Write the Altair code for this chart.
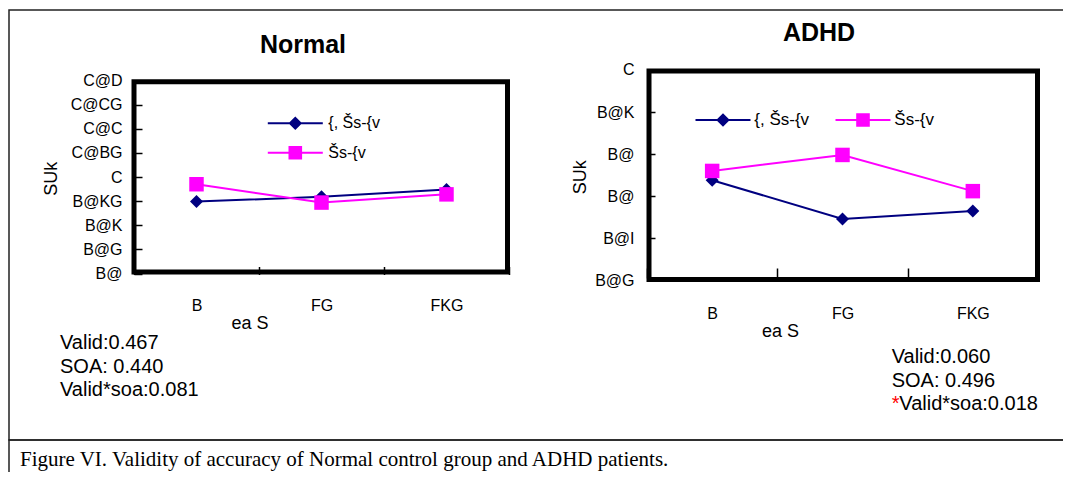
import json
import altair as alt
import pandas as pd

FONT = "Liberation Sans"
SERIF = "Liberation Serif"

# ---------------- data ----------------
categories = ["B", "FG", "FKG"]
series_names = ["{, Šs-{v", "Šs-{v"]
normal_s1 = [0.949, 0.959, 0.974]
normal_s2 = [0.985, 0.947, 0.964]
adhd_s1 = [0.738, 0.646, 0.665]
adhd_s2 = [0.760, 0.798, 0.712]
normal_ticks = [0.8, 0.85, 0.9, 0.95, 1.0, 1.05, 1.1, 1.15, 1.2]
normal_tick_labels = ["B@", "B@G", "B@K", "B@KG", "C", "C@BG", "C@C", "C@CG", "C@D"]
adhd_ticks = [0.5, 0.6, 0.7, 0.8, 0.9, 1.0]
adhd_tick_labels = ["B@G", "B@I", "B@", "B@", "B@K", "C"]
normal_stats = ["Valid:0.467", "SOA: 0.440", "Valid*soa:0.081"]
adhd_stats = ["Valid:0.060", "SOA: 0.496", "Valid*soa:0.018"]
caption = "Figure VI. Validity of accuracy of Normal control group and ADHD patients."
y_title = "SUk"
x_title = "ea S"

series_colors = ["#000080", "#FF00FF"]
marker_shapes = ["diamond", "square"]
marker_sizes = [169, 210]
legend_paths = [
    "M-2.75,-0.1H2.75V0.1H-2.75Z M0,-0.68L0.68,0L0,0.68L-0.68,0Z",
    "M-2.75,-0.1H2.75V0.1H-2.75Z M-0.68,-0.68H0.68V0.68H-0.68Z",
]


def panel_df(s1, s2):
    rows = []
    for name, vals in zip(series_names, [s1, s2]):
        for c, v in zip(categories, vals):
            rows.append({"cat": c, "series": name, "value": v})
    return pd.DataFrame(rows)


def build_panel(df, cfg):
    label_expr = (json.dumps(cfg["labels"], ensure_ascii=False)
                  + "[round((datum.value - %s) / %s)]" % (cfg["yd"][0], cfg["step"]))
    x = alt.X(
        "cat:N", sort=categories, bandPosition=0.5,
        scale=alt.Scale(type="band", domain=categories, range=cfg["xr"],
                        paddingInner=0, paddingOuter=0),
        axis=alt.Axis(orient="bottom", offset=cfg["xoff"], domain=False, grid=False,
                      tickBand="extent", tickSize=cfg["xtick"], tickWidth=1.5,
                      tickColor="black", labelAngle=0, labelFont=FONT,
                      labelFontSize=16, labelColor="black",
                      labelPadding=cfg["xlp"], title=x_title,
                      titleX=cfg["xtx"], titleY=cfg["xty"], titleAlign="center",
                      titleBaseline="middle", titleFont=FONT, titleFontSize=18,
                      titleFontWeight="normal", titleColor="black"),
    )
    y = alt.Y(
        "value:Q",
        scale=alt.Scale(domain=cfg["yd"], range=cfg["yr"], nice=False, zero=False),
        axis=alt.Axis(orient="left", offset=cfg["yoff"], values=cfg["ticks"],
                      labelExpr=label_expr, domain=False, grid=False,
                      tickSize=8, tickWidth=1.5, tickColor="black",
                      labelFont=FONT, labelFontSize=16, labelColor="black",
                      labelPadding=cfg["ylp"], labelOverlap=False,
                      title=y_title, titleX=cfg["ytx"], titleY=cfg["yty"],
                      titleAngle=270, titleAlign="center", titleBaseline="middle",
                      titleFont=FONT, titleFontSize=18, titleFontWeight="normal",
                      titleColor="black"),
    )
    legend = alt.Legend(
        orient="none", legendX=cfg["lx"], legendY=cfg["ly"],
        direction=cfg["ldir"], title=None, labelFont=FONT,
        labelFontSize=cfg["lfs"], labelColor="black", symbolSize=400,
        labelOffset=cfg["loff"], rowPadding=cfg["lrp"],
        columnPadding=cfg["lcp"], padding=0, labelLimit=300,
    )
    legend_layer = alt.Chart(df).transform_filter("false").mark_point(
        filled=True, opacity=1
    ).encode(
        x=x, y=y,
        color=alt.Color("series:N", scale=alt.Scale(domain=series_names, range=series_colors),
                        legend=legend),
        shape=alt.Shape("series:N", scale=alt.Scale(domain=series_names, range=legend_paths),
                        legend=legend),
    )
    lines = alt.Chart(df).mark_line(strokeWidth=2).encode(
        x=x, y=y,
        stroke=alt.Stroke("series:N", scale=alt.Scale(domain=series_names, range=series_colors),
                          legend=None),
    )
    pts = []
    for name, shp, sz in zip(series_names, marker_shapes, marker_sizes):
        pts.append(
            alt.Chart(df).transform_filter(alt.datum.series == name).mark_point(
                filled=True, opacity=1, shape=shp, size=sz
            ).encode(
                x=x, y=y,
                fill=alt.Fill("series:N",
                              scale=alt.Scale(domain=series_names, range=series_colors),
                              legend=None),
            )
        )
    return alt.layer(legend_layer, lines, *pts)


left_cfg = dict(
    xr=[126, 501], yd=[0.8, 1.2], yr=[265.5, 72.5], step=0.05,
    ticks=normal_ticks, labels=normal_tick_labels,
    xoff=-205.5, xtick=8, xlp=22.5, xtx=241.5, xty=56.8,
    yoff=-134, ylp=12, ytx=-90.3, yty=170.3,
    lx=276.3, ly=104.3, ldir="vertical", lfs=16, loff=22, lrp=10.4, lcp=10,
)
right_cfg = dict(
    xr=[639, 1030], yd=[0.5, 1.0], yr=[272.4, 61.9], step=0.1,
    ticks=adhd_ticks, labels=adhd_tick_labels,
    xoff=-204, xtick=10, xlp=27, xtx=772, xty=63,
    yoff=-647, ylp=13, ytx=-75, yty=168.7,
    lx=704, ly=101, ldir="horizontal", lfs=17, loff=20.3, lrp=2, lcp=25,
)

left = build_panel(panel_df(normal_s1, normal_s2), left_cfg)
right = build_panel(panel_df(adhd_s1, adhd_s2), right_cfg)

dummy = pd.DataFrame({"a": [0]})


def box(x1, x2, y1, y2, width, color="black"):
    return alt.Chart(dummy).mark_rect(fillOpacity=0, stroke=color, strokeWidth=width).encode(
        x=alt.value(x1), x2=alt.value(x2), y=alt.value(y1), y2=alt.value(y2)
    )


def label(x, y, s, size, weight="normal", align="left", color="black", font=FONT):
    return alt.Chart(dummy).mark_text(
        align=align, baseline="middle", font=font, fontSize=size,
        fontWeight=weight, color=color
    ).encode(x=alt.value(x), y=alt.value(y), text=alt.value(s))


annotations = [
    box(1, 1100, 2, 432, 1.5, "#222222"),
    box(1, 1100, 432, 490, 1.5, "#222222"),
    box(126, 499.5, 73.7, 264, 5),
    box(641, 1029.5, 63, 271.5, 5),
    label(295, 36.5, "Normal", 25, "bold", "center"),
    label(811, 24.5, "ADHD", 25, "bold", "center"),
    label(52, 334.9, normal_stats[0], 20),
    label(52, 358.9, normal_stats[1], 20),
    label(52, 381.5, normal_stats[2], 20),
    label(883.7, 349.2, adhd_stats[0], 20),
    label(883.7, 373.2, adhd_stats[1], 20),
    label(883.7, 395.9, "*", 20, color="#FF0000"),
    label(891.3, 395.9, adhd_stats[2], 20),
    label(12, 451.5, caption, 21, font=SERIF),
]

chart = alt.layer(left, right, *annotations).resolve_scale(
    x="independent", y="independent", color="independent", shape="independent"
).properties(
    width=1055, height=464,
    autosize=alt.AutoSizeParams(type="none"),
    padding=0,
    background="white",
).configure_view(stroke=None)

chart.save("out.html", embed_options={"renderer": "svg", "actions": False})
